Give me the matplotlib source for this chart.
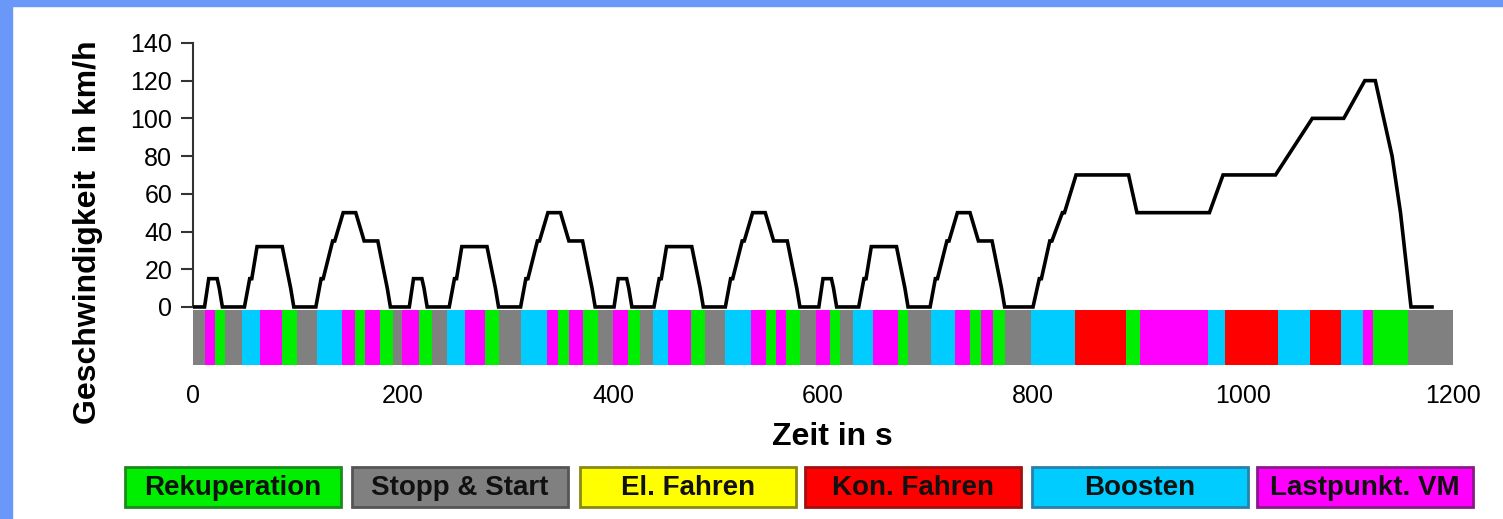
import matplotlib
matplotlib.use("Agg")
import matplotlib.pyplot as plt
from matplotlib.patches import Rectangle

plt.rcParams['font.family'] = ['Liberation Sans', 'DejaVu Sans']

# ---- speed profile (NEDC) ----
time_s = [0, 11, 15, 23, 25, 28, 49, 54, 56, 61, 85, 93, 96, 117, 122, 124, 133, 135, 143, 155, 163, 176, 185, 188,
          206, 210, 218, 220, 223, 244, 249, 251, 256, 280, 288, 291, 312, 317, 319, 328, 330, 338, 350, 358, 371, 380, 383,
          401, 405, 413, 415, 418, 439, 444, 446, 451, 475, 483, 486, 507, 512, 514, 523, 525, 533, 545, 553, 566, 575, 578,
          596, 600, 608, 610, 613, 634, 639, 641, 646, 670, 678, 681, 702, 707, 709, 718, 720, 728, 740, 748, 761, 770, 773,
          800, 806, 808, 816, 818, 828, 830, 841, 891, 899, 968, 981, 1031, 1066, 1096, 1116, 1126, 1142, 1150, 1160, 1180]
speed_kmh = [0, 0, 15, 15, 10, 0, 0, 15, 15, 32, 32, 10, 0, 0, 15, 15, 35, 35, 50, 50, 35, 35, 10, 0,
             0, 15, 15, 10, 0, 0, 15, 15, 32, 32, 10, 0, 0, 15, 15, 35, 35, 50, 50, 35, 35, 10, 0,
             0, 15, 15, 10, 0, 0, 15, 15, 32, 32, 10, 0, 0, 15, 15, 35, 35, 50, 50, 35, 35, 10, 0,
             0, 15, 15, 10, 0, 0, 15, 15, 32, 32, 10, 0, 0, 15, 15, 35, 35, 50, 50, 35, 35, 10, 0,
             0, 15, 15, 35, 35, 50, 50, 70, 70, 50, 50, 70, 70, 100, 100, 120, 120, 80, 50, 0, 0]

# ---- operating mode band ----
band_start = [0, 11, 21, 30, 47, 64, 85, 99, 118, 142, 154, 164, 178,
              190, 199, 215, 228, 242, 259, 278, 291, 312, 337, 348, 358, 371,
              386, 400, 414, 426, 438, 452, 474, 488, 507, 531, 546, 555, 565,
              578, 593, 607, 616, 629, 648, 671, 681, 703, 726, 740, 750, 762,
              773, 798, 840, 889, 902, 967, 983, 1033, 1064, 1093, 1114, 1124, 1157]
band_mode = ['S', 'L', 'R', 'S', 'B', 'L', 'R', 'S', 'B', 'L', 'R', 'L', 'R',
             'S', 'L', 'R', 'S', 'B', 'L', 'R', 'S', 'B', 'L', 'R', 'L', 'R',
             'S', 'L', 'R', 'S', 'B', 'L', 'R', 'S', 'B', 'L', 'R', 'L', 'R',
             'S', 'L', 'R', 'S', 'B', 'L', 'R', 'S', 'B', 'L', 'R', 'L', 'R',
             'S', 'B', 'K', 'R', 'L', 'B', 'K', 'B', 'K', 'B', 'L', 'R', 'S']
band_end = 1200

legend_codes = ['R', 'S', 'E', 'K', 'B', 'L']
legend_labels = ['Rekuperation', 'Stopp & Start', 'El. Fahren', 'Kon. Fahren', 'Boosten', 'Lastpunkt. VM']

colors = {'R': '#00ee00', 'S': '#808080', 'E': '#ffff00', 'K': '#ff0000', 'B': '#00ccff', 'L': '#ff00ff'}
edges = {'R': '#1c8a1c', 'S': '#555555', 'E': '#8a8a10', 'K': '#a01010', 'B': '#2a80a8', 'L': '#8a1a8a'}

W, H = 1503, 519
fig = plt.figure(figsize=(W / 100, H / 100), dpi=100)
fig.patch.set_facecolor('white')

# blue frame strips
fig.add_artist(Rectangle((0, 1 - 6 / H), 1, 6 / H, transform=fig.transFigure, color='#6a98f8', zorder=0))
fig.add_artist(Rectangle((0, 0), 12 / W, 1, transform=fig.transFigure, color='#6a98f8', zorder=0))

ax_l, ax_r = 193 / W, 1453 / W
ax_top, ax_bot = 35, 366
ax = fig.add_axes([ax_l, 1 - ax_bot / H, ax_r - ax_l, (ax_bot - ax_top) / H])
ax.set_facecolor('none')

ax.set_xlim(0, 1200)
ax.set_ylim(-31.3, 144.2)

# band
ends = band_start[1:] + [band_end]
ranges = [(s, e - s) for s, e in zip(band_start, ends)]
ax.broken_barh(ranges, (-30.8, 29.2), facecolors=[colors[m] for m in band_mode], edgecolor='none', zorder=1)

ax.plot(time_s, speed_kmh, color='black', lw=2.6, zorder=3, solid_joinstyle='miter')

for s in ['top', 'right', 'bottom']:
    ax.spines[s].set_visible(False)
ax.spines['left'].set_bounds(0, 140)
ax.spines['left'].set_linewidth(1.5)
ax.spines['left'].set_color('#333333')

ax.set_yticks(range(0, 141, 20))
ax.set_xticks(range(0, 1201, 200))
ax.tick_params(axis='y', length=9, width=1.5, color='#333333', labelsize=18, pad=6)
ax.tick_params(axis='x', length=0, labelsize=18, pad=13)

fig.text(88 / W, 1 - 232 / H, 'Geschwindigkeit  in km/h', rotation=90, ha='center', va='center',
         fontsize=23, fontweight='bold')
fig.text(832 / W, 1 - 437 / H, 'Zeit in s', ha='center', va='center', fontsize=23, fontweight='bold')

# legend boxes
box_x = [125, 352, 580, 805, 1032, 1257]
box_w, box_y0, box_y1 = 216, 467, 507
for x, code, lab in zip(box_x, legend_codes, legend_labels):
    fig.add_artist(Rectangle((x / W, 1 - box_y1 / H), box_w / W, (box_y1 - box_y0) / H,
                             transform=fig.transFigure, facecolor=colors[code],
                             edgecolor=edges[code], linewidth=2))
    fig.text((x + box_w / 2) / W, 1 - ((box_y0 + box_y1) / 2 + 1) / H, lab, ha='center', va='center',
             fontsize=20, fontweight='bold', color='#111111')

fig.savefig('out.png', dpi=100)
